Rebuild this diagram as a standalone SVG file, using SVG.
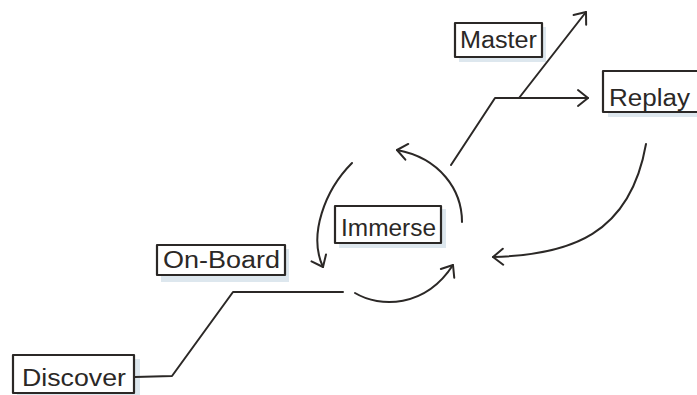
<svg xmlns="http://www.w3.org/2000/svg" width="697" height="395" viewBox="0 0 697 395">
<style>
.shadow{fill:#dde7ee;stroke:none}
.box{fill:#ffffff;stroke:#2b2826;stroke-width:2.2;stroke-linejoin:round}
.lbl{font-family:"Liberation Sans","DejaVu Sans",sans-serif;font-size:23px;fill:#2b2826}
.conn{fill:none;stroke:#2b2826;stroke-width:2;stroke-linecap:round;stroke-linejoin:round}
</style>
<defs>
<marker id="arr" markerUnits="userSpaceOnUse" markerWidth="24" markerHeight="24" refX="0" refY="0" viewBox="-12 -12 24 24" orient="auto" overflow="visible">
<path d="M-10,-8 L0,0 L-10,8" fill="none" stroke="#2b2826" stroke-width="2" stroke-linecap="round" stroke-linejoin="round"/>
</marker>
</defs>
<rect width="697" height="395" fill="#ffffff"/>

<g id="discover">
<rect class="shadow" x="17" y="359" width="123" height="40"/>
<rect class="box" x="13" y="355" width="121" height="38"/>
<text class="lbl" x="22" y="386" textLength="104" lengthAdjust="spacingAndGlyphs">Discover</text>
</g>

<g id="onboard">
<rect class="shadow" x="161" y="249" width="128" height="33"/>
<rect class="box" x="157" y="245" width="128" height="30"/>
<text class="lbl" x="163" y="268" textLength="117" lengthAdjust="spacingAndGlyphs">On-Board</text>
</g>

<g id="immerse">
<rect class="shadow" x="339" y="209" width="107" height="39"/>
<rect class="box" x="335" y="206" width="106" height="37"/>
<text class="lbl" x="341" y="236" textLength="95" lengthAdjust="spacingAndGlyphs">Immerse</text>
</g>

<g id="master">
<rect class="shadow" x="459" y="27" width="87" height="35"/>
<rect class="box" x="455" y="23" width="87" height="34"/>
<text class="lbl" x="460" y="48" textLength="77" lengthAdjust="spacingAndGlyphs">Master</text>
</g>

<g id="replay">
<rect class="shadow" x="608" y="75" width="95" height="42"/>
<rect class="box" x="603" y="71" width="100" height="41"/>
<text class="lbl" x="609" y="106" textLength="81" lengthAdjust="spacingAndGlyphs">Replay</text>
</g>

<g id="connectors">
<path class="conn" d="M135,377 L172,376 L233,292 L343,292"/>
<path class="conn" d="M355,293 C380,308 425,308 453,265" marker-end="url(#arr)"/>
<path class="conn" d="M352,163 C325,190 308,235 323,267" marker-end="url(#arr)"/>
<path class="conn" d="M462,222 C462,190 440,158 397,150" marker-end="url(#arr)"/>
<path class="conn" d="M451,165 L495,98 L588,98" marker-end="url(#arr)"/>
<path class="conn" d="M519,98 L586,12" marker-end="url(#arr)"/>
<path class="conn" d="M646,144 C630,235 570,255 493,257" marker-end="url(#arr)"/>
</g>
</svg>
